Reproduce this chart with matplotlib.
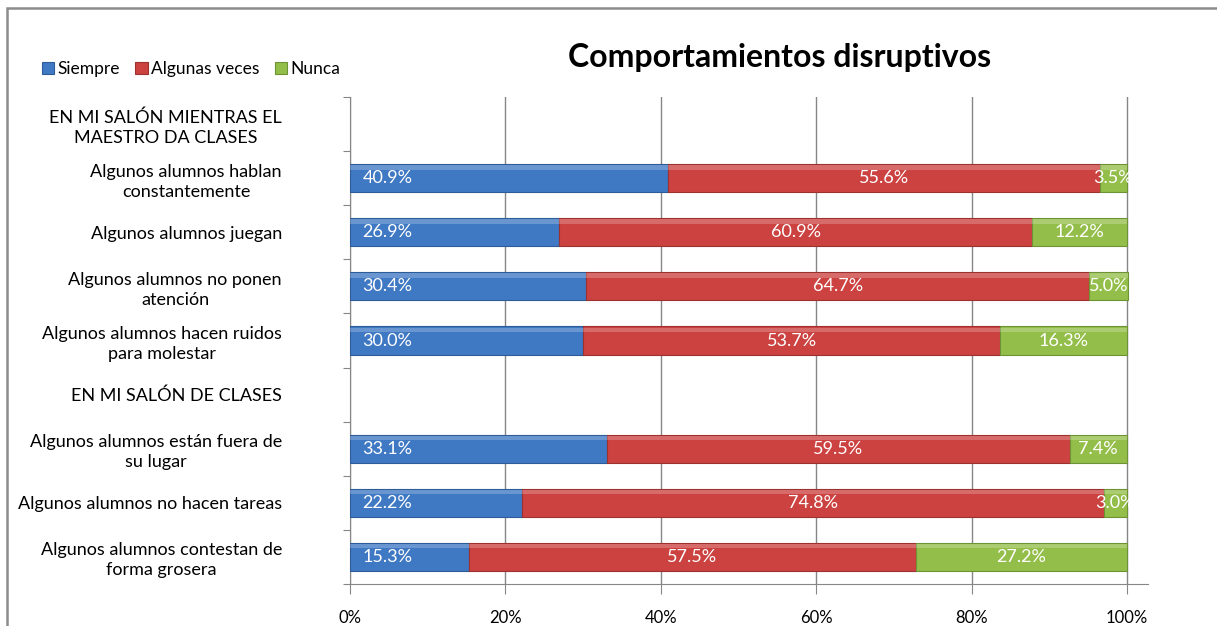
import numpy as np
import matplotlib.pyplot as plt
import matplotlib.patches as patches

plt.rcParams['font.family'] = ['Lato', 'DejaVu Sans']

categorias = [
    "EN MI SALÓN MIENTRAS EL\nMAESTRO DA CLASES",
    "Algunos alumnos hablan\nconstantemente",
    "Algunos alumnos juegan",
    "Algunos alumnos no ponen\natención",
    "Algunos alumnos hacen ruidos\npara molestar",
    "EN MI SALÓN DE CLASES",
    "Algunos alumnos están fuera de\nsu lugar",
    "Algunos alumnos no hacen tareas",
    "Algunos alumnos contestan de\nforma grosera",
]
siempre = [np.nan, 40.9, 26.9, 30.4, 30.0, np.nan, 33.1, 22.2, 15.3]
algunas = [np.nan, 55.6, 60.9, 64.7, 53.7, np.nan, 59.5, 74.8, 57.5]
nunca = [np.nan, 3.5, 12.2, 5.0, 16.3, np.nan, 7.4, 3.0, 27.2]
series = ["Siempre", "Algunas veces", "Nunca"]
colores = ["#3F78C3", "#CB4240", "#94BE4A"]
bordes = ["#2E5C99", "#9C3230", "#6F9235"]

fig = plt.figure(figsize=(12.17, 6.26), dpi=100)
ax = fig.add_axes([350 / 1217, 42 / 626, 798 / 1217, 487 / 626])

y = np.arange(len(categorias))
s = np.array(siempre)
a = np.array(algunas)
n = np.array(nunca)
lefts = [np.zeros(len(y)), s, s + a]
handles = []
for vals, left, c, ec, name in zip([s, a, n], lefts, colores, bordes, series):
    b = ax.barh(y, vals, left=left, height=0.52, color=c, edgecolor=ec,
                linewidth=0.8, label=name, zorder=3)
    handles.append(b)
    # light highlight on top of each bar
    ax.barh(y - 0.2, vals, left=left, height=0.08, color="white", alpha=0.22,
            linewidth=0, zorder=4)

for i in range(len(y)):
    if np.isnan(s[i]):
        continue
    ax.text(1.6, y[i], f"{s[i]:.1f}%", color="white", va="center",
            ha="left", fontsize=13, zorder=5)
    ax.text(s[i] + a[i] / 2, y[i], f"{a[i]:.1f}%", color="white", va="center",
            ha="center", fontsize=13, zorder=5)
    ax.text(s[i] + a[i] + n[i] / 2, y[i], f"{n[i]:.1f}%", color="white",
            va="center", ha="center", fontsize=13, zorder=5)

ax.set_xlim(0, 102.7)
ax.set_ylim(len(y) - 0.5, -0.5)
ax.set_xticks([0, 20, 40, 60, 80, 100])
ax.set_xticklabels(["0%", "20%", "40%", "60%", "80%", "100%"], fontsize=12)
ax.tick_params(axis="x", length=7, color="#868686", pad=12)
ax.set_yticks(np.arange(len(y) + 1) - 0.5)
ax.set_yticklabels([])
ax.tick_params(axis="y", which="major", length=5, color="#868686")
ax.set_yticks(y, minor=True)
ax.set_yticklabels(categorias, minor=True, fontsize=13, ha="right",
                   multialignment="center", linespacing=1.3)
ax.tick_params(axis="y", which="minor", length=0, pad=49)
ax.grid(axis="x", color="#868686", linewidth=1, zorder=0)
for sp in ["top", "right"]:
    ax.spines[sp].set_visible(False)
ax.spines["left"].set_color("#868686")
ax.spines["bottom"].set_color("#868686")

fig.text(780 / 1217, 1 - 57 / 626, "Comportamientos disruptivos",
         fontsize=23, fontweight="bold", ha="center", va="center")
fig.legend(handles=handles, labels=series, loc="center left",
           bbox_to_anchor=(26 / 1217, 1 - 69 / 626), ncol=3, frameon=False,
           fontsize=12.5, handlelength=0.7, handleheight=0.7, handletextpad=0.2,
           columnspacing=0.9)

fig.patches.append(patches.Rectangle((7 / 1217, -0.1), 1.2, 1.1 - 8 / 626,
                                     transform=fig.transFigure, fill=False,
                                     edgecolor="#8C8C8C", linewidth=1.8))

fig.savefig("out.png", dpi=100)
